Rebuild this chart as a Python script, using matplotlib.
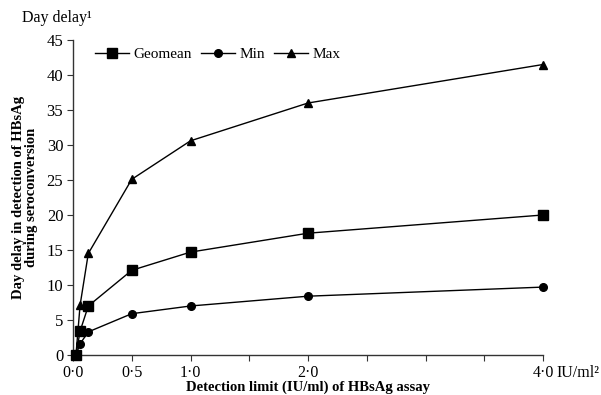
import matplotlib
matplotlib.use('Agg')
import matplotlib.pyplot as plt

# detection limit (IU/ml) and day delays
limits = [0.025, 0.06, 0.13, 0.5, 1.0, 2.0, 4.0]
geomean = [0, 3.4, 7.0, 12.1, 14.7, 17.4, 20.0]
min_delay = [0, 1.6, 3.3, 5.9, 7.0, 8.4, 9.7]
max_delay = [0, 7.1, 14.5, 25.1, 30.6, 36.0, 41.5]

xticks = [0, 0.5, 1.0, 1.5, 2.0, 2.5, 3.0, 3.5, 4.0]
xticklabels = ['0·0', '0·5', '1·0', '', '2·0', '', '', '', '4·0']
yticks = list(range(0, 50, 5))

plt.rcParams['font.family'] = ['Liberation Serif', 'DejaVu Serif']

fig = plt.figure(figsize=(6.01, 3.95), dpi=100)
ax = fig.add_axes([0.1215, 0.1013, 0.7820, 0.7974])

ax.plot(limits, geomean, color='black', lw=1, marker='s', ms=7, label='Geomean', clip_on=False, zorder=3)
ax.plot(limits, min_delay, color='black', lw=1, marker='o', ms=5.5, label='Min', clip_on=False, zorder=3)
ax.plot(limits, max_delay, color='black', lw=1, marker='^', ms=6, label='Max', clip_on=False, zorder=3)

ax.set_xlim(0, 4)
ax.set_ylim(0, 45)
ax.set_xticks(xticks)
ax.set_xticklabels(xticklabels, fontsize=11.5)
ax.set_yticks(yticks)
ax.set_yticklabels([str(v) for v in yticks], fontsize=12)
ax.tick_params(axis='both', direction='out', length=4, width=0.8, color='#333333', pad=3)
for s in ['top', 'right']:
    ax.spines[s].set_visible(False)
for s in ['left', 'bottom']:
    ax.spines[s].set_color('#333333')
    ax.spines[s].set_linewidth(1.0)

ax.set_xlabel('Detection limit (IU/ml) of HBsAg assay', fontsize=10.5, fontweight='bold')
ax.xaxis.set_label_coords(0.5, -0.08)
ax.set_ylabel('Day delay in detection of HBsAg\nduring seroconversion', fontsize=10.5,
              fontweight='bold', labelpad=6, linespacing=1.0)

fig.text(0.037, 0.955, 'Day delay¹', fontsize=11.5, va='center', ha='left')
ax.annotate('IU/ml²', xy=(4.0, 0), xytext=(10, -13), textcoords='offset points',
            fontsize=11.5, va='center', ha='left', annotation_clip=False)

ax.legend(loc='upper left', bbox_to_anchor=(0.148, 0.895), bbox_transform=fig.transFigure,
          ncol=3, frameon=False, fontsize=11, handlelength=2.2, handletextpad=0.3,
          columnspacing=0.6, borderaxespad=0)

fig.savefig('out.png', dpi=100)
